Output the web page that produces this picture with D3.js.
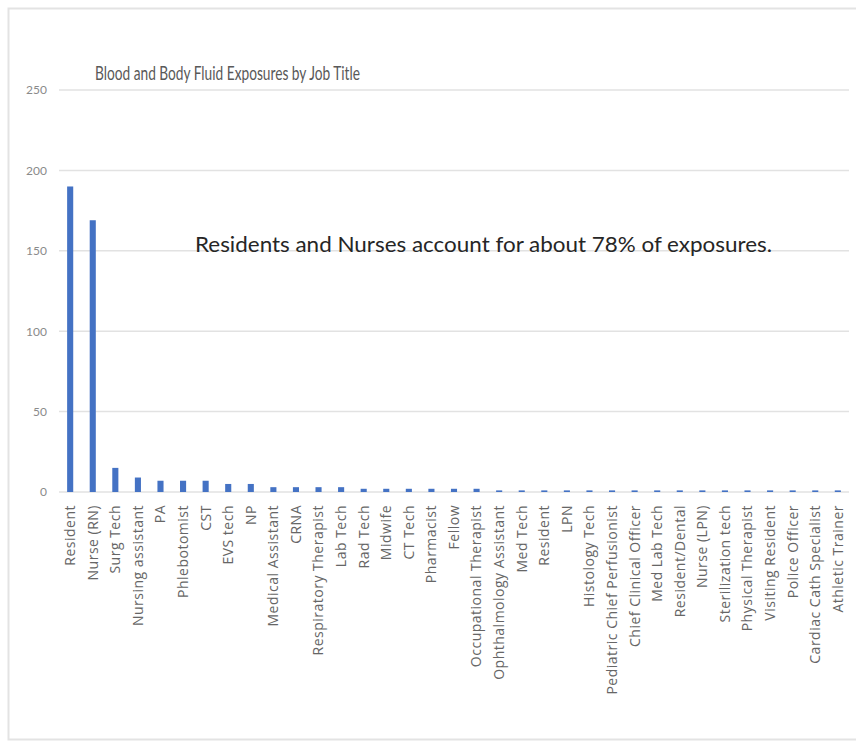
<!DOCTYPE html>
<html>
<head>
<meta charset="utf-8">
<script src="https://cdn.jsdelivr.net/npm/d3@7"></script>
<style>
  html, body { margin: 0; padding: 0; background: #fff; }
  svg { display: block; }
</style>
</head>
<body>
<div id="chart"></div>
<script>
const categories = [
  "Resident", "Nurse (RN)", "Surg Tech", "Nursing assistant", "PA", "Phlebotomist",
  "CST", "EVS tech", "NP", "Medical Assistant", "CRNA", "Respiratory Therapist",
  "Lab Tech", "Rad Tech", "Midwife", "CT Tech", "Pharmacist", "Fellow",
  "Occupational Therapist", "Ophthalmology Assistant", "Med Tech", "Resident", "LPN",
  "Histology Tech", "Pediatric Chief Perfusionist", "Chief Clinical Officer",
  "Med Lab Tech", "Resident/Dental", "Nurse (LPN)", "Sterilization tech",
  "Physical Therapist", "Visiting Resident", "Police Officer", "Cardiac Cath Specialist",
  "Athletic Trainer"
];
const exposures = [
  190, 169, 15, 9, 7, 7,
  7, 5, 5, 3, 3, 3,
  3, 2, 2, 2, 2, 2,
  2, 1, 1, 1, 1,
  1, 1, 1,
  1, 1, 1, 1,
  1, 1, 1, 1,
  1
];
const yTicks = [0, 50, 100, 150, 200, 250];
const chartTitle = "Blood and Body Fluid Exposures by Job Title";
const annotation = "Residents and Nurses account for about 78% of exposures.";

const W = 856, H = 742;
const svg = d3.select("#chart").append("svg").attr("width", W).attr("height", H);

// outer frame
svg.append("rect").attr("x", 8.5).attr("y", 8.5).attr("width", W + 10).attr("height", 731)
  .attr("fill", "none").attr("stroke", "#e3e3e3").attr("stroke-width", 2);

const idx = categories.map((d, i) => i);
const x = d3.scaleBand().domain(idx).range([59, 849]).paddingInner(0.73).paddingOuter(0.36);
const y = d3.scaleLinear().domain([0, 250]).range([492, 90]);

// gridlines
svg.append("g").selectAll("line").data(yTicks).join("line")
  .attr("x1", 59).attr("x2", 849)
  .attr("y1", d => y(d)).attr("y2", d => y(d))
  .attr("stroke", "#e2e2e2").attr("stroke-width", 1.5);

// y axis labels
const yAxis = d3.axisLeft(y).tickValues(yTicks).tickSize(0).tickPadding(0);
const gy = svg.append("g").attr("transform", "translate(47,0)").call(yAxis);
gy.select(".domain").remove();
gy.selectAll("text").attr("fill", "#8a8a8a").attr("font-size", 12)
  .attr("font-family", "Lato, 'Liberation Sans', sans-serif");

// bars
svg.append("g").selectAll("rect").data(exposures).join("rect")
  .attr("x", (d, i) => x(i)).attr("width", x.bandwidth())
  .attr("y", d => y(d)).attr("height", d => y(0) - y(d))
  .attr("fill", "#4472C4");

// x labels
const xAxis = d3.axisBottom(x).tickSize(0).tickPadding(0).tickFormat(i => categories[i]);
const gx = svg.append("g").attr("transform", "translate(0,492)").call(xAxis);
gx.select(".domain").remove();
gx.selectAll("text")
  .attr("transform", "rotate(-90)")
  .attr("x", -13).attr("y", 0).attr("dy", "0.35em")
  .attr("text-anchor", "end")
  .attr("fill", "#666").attr("font-size", 14)
  .attr("letter-spacing", "0.5px")
  .attr("font-family", "'Open Sans', sans-serif");

// title
svg.append("text").attr("x", 95).attr("y", 80)
  .attr("font-family", "Lato, 'Liberation Sans', sans-serif")
  .attr("font-size", 19.5).attr("fill", "#595959")
  .attr("textLength", 265).attr("lengthAdjust", "spacingAndGlyphs")
  .text(chartTitle);

// annotation
svg.append("text").attr("x", 195).attr("y", 252)
  .attr("font-family", "Lato, 'Liberation Sans', sans-serif")
  .attr("font-size", 21).attr("fill", "#262626")
  .attr("textLength", 577).attr("lengthAdjust", "spacingAndGlyphs")
  .text(annotation);
</script>
</body>
</html>
